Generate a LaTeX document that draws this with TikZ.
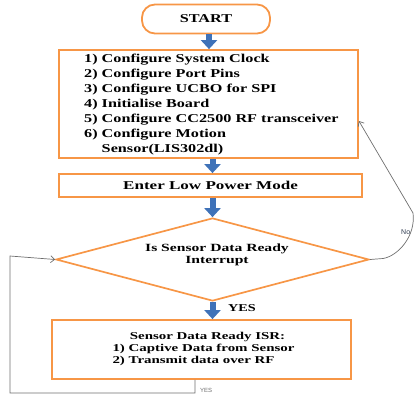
\documentclass[tikz,border=0pt]{standalone}
\usepackage{fontspec}
\setmainfont{Liberation Serif}
\setsansfont{Liberation Sans}
\newfontfamily\wideA[FakeStretch=1.35]{Liberation Serif}
\newfontfamily\wideB[FakeStretch=1.42]{Liberation Serif}
\usetikzlibrary{arrows.meta,shapes.geometric,calc}
\definecolor{orng}{HTML}{F79646}
\definecolor{barblue}{HTML}{3F72B8}
\definecolor{lgray}{HTML}{6E6E6E}
\definecolor{notext}{HTML}{2E3A4E}
\begin{document}
\begin{tikzpicture}[x=1pt,y=-1pt,
  box/.style={draw=orng, line width=1.8pt, rectangle, inner sep=0pt},
  barrow/.style={draw=barblue, line width=6pt, -{Triangle[width=16pt, length=9pt]}},
  thinline/.style={draw=lgray, line width=0.7pt, -{Straight Barb[length=4pt, width=7pt]}},
]
\useasboundingbox (0,0) rectangle (414,397);

\node[box, rounded corners=13pt, minimum width=128pt, minimum height=29pt,
  font=\wideA\fontsize{12}{14}\selectfont\bfseries] (start) at (206,19) {START};

\node[box, minimum width=299pt, minimum height=108pt] (config) at (208.5,104) {};
\node[anchor=west, inner sep=0pt, font=\wideA\fontsize{12}{15}\selectfont\bfseries] (cfgtext) at (84,104)
  {\begin{tabular}{@{}l@{\ }l@{}}
   1) & Configure System Clock\\
   2) & Configure Port Pins\\
   3) & Configure UCBO for SPI\\
   4) & Initialise Board\\
   5) & Configure CC2500 RF transceiver\\
   6) & Configure Motion\\
      & Sensor(LIS302dl)
   \end{tabular}};

\node[box, minimum width=303pt, minimum height=23pt,
  font=\wideB\fontsize{12}{14}\selectfont\bfseries] (low) at (210.5,185.5) {Enter Low Power Mode};

\node[draw=orng, line width=1.7pt, diamond, aspect=3.77, minimum width=313pt, minimum height=83pt, inner sep=0pt] (dia) at (212.5,259.5) {};
\node[align=center, inner sep=0pt, font=\wideB\fontsize{11}{12}\selectfont\bfseries] (diatext) at (217,255)
  {Is Sensor Data Ready\\ Interrupt};

\node[box, minimum width=299pt, minimum height=59pt] (isr) at (201.5,349.5) {};
\node[inner sep=0pt, font=\wideB\fontsize{10.5}{12}\selectfont\bfseries] (isrtext) at (203.5,349)
  {\begin{tabular}{@{}l@{}}
   \multicolumn{1}{@{}c@{}}{\hspace*{8pt}Sensor Data Ready ISR:}\\
   1) Captive Data from Sensor\\
   2) Transmit data over RF
   \end{tabular}};

\draw[barrow] ([xshift=3pt]start.south) -- ([xshift=3pt]start.south |- config.north);
\draw[barrow] ([xshift=4pt]config.south) -- ([xshift=4pt]config.south |- low.north);
\draw[barrow] ([xshift=2pt]low.south) -- ([xshift=2pt]low.south |- dia.north);
\draw[barrow] (dia.south) -- (dia.south |- isr.north);

\node[anchor=west, inner sep=0pt, font=\wideA\fontsize{10.5}{12}\selectfont\bfseries] (yes1) at (228,308) {YES};

% loop back on the left
\coordinate (l1) at (195,393);
\coordinate (l2) at (10,393);
\coordinate (l3) at (10,256);
\draw[thinline] (isr.south -| l1) -- (l1) -- (l2) -- (l3) -- (dia.west);
\node[anchor=west, inner sep=0pt, text=lgray, font=\sffamily\fontsize{6}{7}\selectfont] (yes2) at (200,390) {YES};

% No branch on the right
\coordinate (n1) at (383,258.5);
\coordinate (n2) at (413,213);
\draw[thinline] (dia.east) -- (n1) .. controls (398,256) and (416,236) .. (n2) -- ([yshift=-17pt]config.east);
\node[anchor=west, inner sep=0pt, text=notext, font=\sffamily\fontsize{7}{8}\selectfont] (notxt) at (401,232) {No};
\end{tikzpicture}
\end{document}
